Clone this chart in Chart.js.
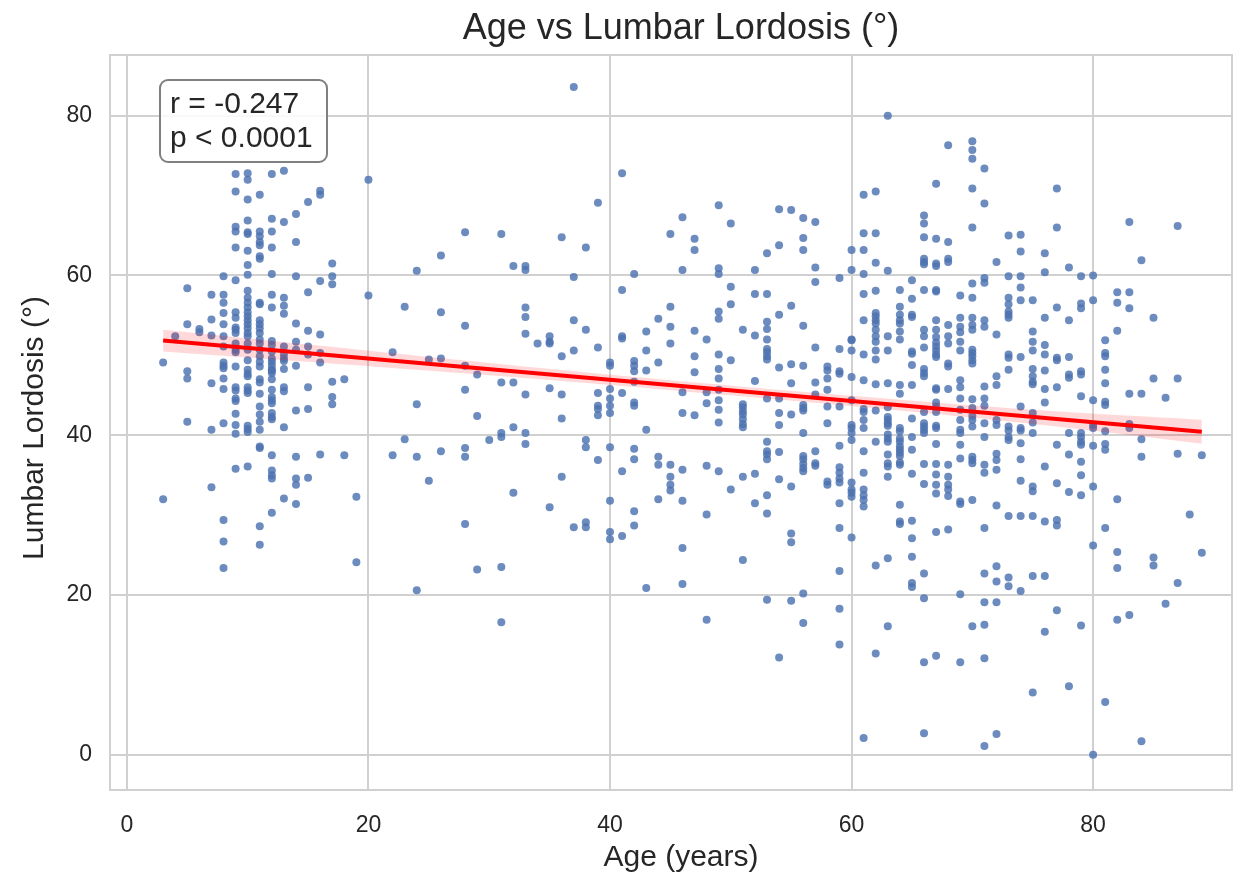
<!DOCTYPE html>
<html lang="en">
<head>
    <meta charset="UTF-8">
    <title>Age vs Lumbar Lordosis</title>
    <script src="https://cdn.jsdelivr.net/npm/chart.js@4.4.1/dist/chart.umd.min.js"></script>
    <style>
        body { margin: 0; background: #fff; }
        #wrap { width: 1243px; height: 880px; }
    </style>
</head>
<body>
    <div id="wrap">
        <canvas id="grafico" width="1243" height="880"></canvas>
    </div>

    <script>
        // ages (years) and the lordosis readings (deg) at each age
        const ages = [3, 4, 5, 6, 7, 8, 9, 10, 11, 12, 13, 14, 15, 16, 17, 18, 19, 20,
            22, 23, 24, 25, 26, 28, 29, 30, 31, 32, 33, 34, 35, 36, 37, 38, 39, 40,
            41, 42, 43, 44, 45, 46, 47, 48, 49, 50, 51, 52, 53, 54, 55, 56, 57, 58, 59, 60,
            61, 62, 63, 64, 65, 66, 67, 68, 69, 70, 71, 72, 73, 74, 75, 76, 77, 78, 79, 80,
            81, 82, 83, 84, 85, 86, 87, 88, 89]

        const lordosisByAge = [
            [49.1, 32.0],
            [52.4],
            [58.4, 53.9, 48.0, 47.1, 41.7],
            [53.3, 52.9],
            [57.6, 54.5, 52.5, 46.5, 40.7, 33.5],
            [59.9, 57.6, 56.6, 55.3, 53.9, 52.4, 51.1, 49.1, 48.7, 48.4, 47.1, 45.8, 41.5, 29.4, 26.7, 23.4],
            [72.7, 70.5, 66.1, 65.5, 63.5, 59.4, 55.4, 54.7, 53.5, 53.2, 52.8, 51.5, 50.7, 50.4, 48.6, 46.0, 45.6, 44.6, 44.3, 42.7, 41.3, 40.2, 35.8],
            [72.8, 72.0, 69.5, 66.9, 65.4, 65.2, 63.1, 61.3, 60.1, 58.1, 57.2, 56.6, 56.0, 55.4, 54.9, 54.4, 53.9, 53.4, 52.8, 52.4, 51.5, 50.7, 49.4, 48.2, 47.7, 47.4, 46.0, 45.6, 45.3, 41.2, 40.8, 40.4, 36.1],
            [70.1, 65.5, 64.9, 64.2, 63.8, 62.4, 62.1, 56.6, 56.4, 54.4, 53.9, 53.4, 52.8, 52.0, 51.5, 50.7, 49.9, 49.2, 48.6, 47.0, 46.6, 45.2, 43.6, 42.6, 41.7, 40.7, 38.6, 38.4, 28.6, 26.3],
            [72.7, 67.1, 65.5, 63.5, 60.2, 57.6, 56.0, 51.8, 51.3, 50.5, 49.6, 49.2, 48.7, 48.2, 48.1, 47.8, 47.0, 45.7, 44.8, 44.4, 44.0, 42.8, 42.3, 42.0, 37.5, 35.6, 35.0, 34.6, 30.3],
            [73.1, 66.7, 57.2, 56.2, 55.2, 51.1, 50.1, 49.6, 49.3, 48.3, 46.0, 45.5, 41.0, 32.1],
            [67.7, 64.2, 59.9, 54.0, 51.7, 50.7, 48.7, 43.1, 37.3, 34.6, 33.8, 31.4],
            [69.2, 57.9, 53.1, 51.1, 50.1, 46.0, 43.3, 34.7],
            [70.6, 70.1, 59.3, 52.6, 50.3, 49.1, 37.6],
            [61.5, 59.9, 58.9, 46.7, 44.8, 43.9],
            [47.0, 37.5],
            [32.3, 24.1],
            [72.0, 57.5],
            [50.4, 37.5],
            [56.1, 39.5],
            [60.6, 43.9, 37.3, 20.6],
            [49.5, 34.3],
            [62.5, 55.4, 49.6, 38.0],
            [65.4, 53.7, 48.7, 45.7, 38.4, 37.3, 28.9],
            [47.6, 42.4, 23.2],
            [39.4],
            [65.2, 46.6, 40.3, 39.8, 23.5, 16.6],
            [61.2, 46.6, 41.0, 32.8],
            [61.2, 60.7, 56.0, 54.8, 52.7, 45.1, 40.3, 38.9],
            [51.5],
            [52.4, 51.7, 51.5, 45.9, 31.0],
            [64.8, 49.9, 45.1, 42.1, 34.8],
            [83.6, 59.8, 54.4, 50.6, 28.5],
            [63.5, 53.2, 39.4, 38.5, 29.1, 28.5],
            [69.1, 51.0, 45.3, 43.7, 43.3, 42.5, 36.9],
            [49.1, 48.7, 45.8, 44.6, 43.7, 42.8, 38.5, 31.8, 27.9, 27.0],
            [72.8, 58.2, 52.4, 52.1, 45.3, 35.5, 27.4],
            [60.2, 49.3, 48.7, 48.0, 46.7, 44.1, 43.7, 38.3, 37.0, 30.5, 28.7],
            [53.0, 50.6, 48.1, 40.7, 20.9],
            [54.6, 49.1, 37.3, 36.3, 32.0],
            [65.2, 56.1, 53.6, 51.5, 36.3, 34.8, 33.8, 33.1],
            [67.3, 60.7, 45.4, 42.8, 35.7, 31.8, 25.9, 21.4],
            [64.6, 63.2, 53.1, 49.9, 47.9, 42.5],
            [52.0, 45.4, 44.0, 36.2, 30.1, 16.9],
            [68.8, 60.9, 60.2, 55.5, 54.6, 50.1, 48.3, 47.1, 45.7, 44.4, 43.2, 41.6, 35.5],
            [66.5, 58.6, 56.4, 49.4, 33.2],
            [53.2, 43.9, 43.5, 43.0, 42.6, 42.0, 41.4, 41.0, 34.8, 24.4],
            [60.7, 57.7, 52.5, 46.8, 35.2, 31.5],
            [62.8, 57.7, 54.2, 53.3, 52.0, 50.8, 50.4, 49.9, 49.5, 44.6, 39.2, 38.0, 37.6, 37.0, 32.5, 30.2, 19.4],
            [68.3, 63.8, 55.1, 48.5, 44.6, 42.8, 41.3, 37.9, 34.5, 12.2],
            [68.2, 56.2, 48.9, 46.5, 42.6, 33.6, 27.7, 26.6, 19.3],
            [67.2, 64.7, 63.2, 53.7, 48.7, 43.8, 43.4, 43.1, 40.3, 37.4, 37.0, 36.4, 35.9, 35.5, 20.2, 16.5],
            [66.7, 61.0, 59.2, 51.0, 46.6, 45.1, 38.0, 36.5, 36.2],
            [48.6, 48.1, 47.1, 45.7, 43.6, 41.5, 34.2, 33.8],
            [59.7, 50.8, 48.0, 47.7, 43.6, 38.7, 36.0, 35.3, 34.6, 34.1, 31.5, 28.4, 23.0, 18.3, 13.8],
            [63.2, 60.7, 52.0, 51.9, 50.6, 47.3, 44.4, 41.3, 40.9, 40.3, 39.4, 34.1, 33.2, 32.8, 32.3, 27.2],
            [70.1, 65.3, 63.2, 60.2, 57.7, 54.4, 50.1, 46.9, 43.3, 42.9, 41.9, 40.9, 38.0, 35.3, 33.2, 32.5, 31.9, 31.1, 2.1],
            [70.5, 65.3, 61.6, 58.1, 55.3, 54.9, 54.4, 54.0, 53.2, 52.4, 51.7, 50.6, 49.5, 46.4, 43.1, 39.2, 23.7, 12.7],
            [80.0, 60.6, 52.4, 50.6, 46.5, 43.5, 42.3, 41.9, 41.5, 41.2, 40.1, 39.6, 39.2, 37.6, 36.5, 36.1, 34.8, 24.6, 16.1],
            [58.2, 56.1, 55.1, 54.4, 54.0, 53.0, 52.0, 46.3, 45.2, 40.9, 40.5, 39.6, 39.2, 38.6, 38.2, 37.8, 37.4, 36.6, 36.3, 31.3, 29.2, 28.9],
            [59.4, 57.1, 55.1, 54.8, 50.5, 50.2, 48.8, 46.3, 42.1, 39.8, 38.2, 35.2, 29.3, 27.1, 24.8, 21.5, 21.0],
            [67.5, 66.5, 64.8, 62.1, 61.7, 61.4, 58.2, 53.2, 52.4, 51.0, 48.3, 47.8, 47.4, 42.9, 41.5, 41.1, 40.7, 40.3, 36.4, 33.9, 22.7, 19.6, 11.6, 2.7],
            [71.5, 64.6, 61.5, 61.2, 58.2, 58.0, 54.4, 53.2, 52.3, 51.6, 51.1, 50.6, 50.1, 49.8, 45.9, 45.7, 44.1, 43.6, 42.9, 41.2, 40.9, 38.9, 36.4, 35.1, 33.8, 32.7, 27.9, 12.4],
            [76.3, 64.2, 62.1, 61.7, 53.8, 52.4, 51.5, 49.0, 48.6, 45.8, 36.3, 34.8, 33.8, 33.2, 32.4, 28.2],
            [57.5, 54.7, 53.6, 52.9, 51.7, 50.6, 46.9, 46.0, 44.6, 43.2, 41.9, 40.7, 40.3, 38.8, 37.1, 31.7, 31.4, 20.1, 11.6],
            [76.8, 75.7, 74.6, 70.9, 66.0, 59.0, 57.2, 54.7, 53.8, 53.2, 50.7, 50.3, 49.9, 49.4, 49.0, 44.5, 43.4, 42.4, 41.9, 41.1, 37.3, 36.9, 36.5, 31.9, 16.1],
            [73.4, 69.0, 59.7, 59.1, 54.4, 53.6, 46.1, 44.6, 43.7, 41.5, 39.8, 36.3, 35.3, 28.4, 22.7, 19.1, 16.3, 12.1, 1.1],
            [61.7, 52.6, 47.4, 46.3, 41.9, 41.3, 37.7, 36.9, 35.7, 31.2, 23.6, 21.7, 19.1, 2.6],
            [65.0, 59.9, 57.2, 56.4, 55.5, 55.1, 54.7, 50.1, 49.7, 48.2, 41.1, 40.6, 39.8, 39.4, 29.9, 22.2, 21.1],
            [65.1, 63.0, 59.9, 58.5, 56.9, 49.8, 43.6, 40.9, 40.6, 39.0, 37.0, 34.3, 29.9, 20.5],
            [56.9, 53.0, 51.7, 50.6, 48.3, 47.4, 46.7, 46.4, 42.8, 41.6, 40.3, 33.6, 33.0, 29.9, 22.4, 7.8],
            [62.8, 60.4, 54.7, 51.3, 50.1, 48.1, 45.8, 44.1, 36.1, 29.2, 22.4, 15.4],
            [70.9, 66.0, 56.0, 49.7, 49.4, 46.0, 38.8, 34.0, 29.4, 28.7, 18.1],
            [61.0, 54.4, 49.8, 47.6, 47.2, 40.3, 37.6, 32.9, 8.6],
            [59.9, 56.5, 55.9, 48.0, 47.6, 44.9, 40.3, 39.8, 39.2, 38.8, 36.7, 35.0, 32.5, 16.2],
            [60.0, 56.9, 44.4, 41.3, 40.9, 38.7, 33.6, 26.2, 0.0],
            [51.9, 50.3, 49.9, 48.2, 46.5, 44.2, 43.8, 40.5, 38.9, 38.2, 28.4, 6.6],
            [57.9, 56.6, 53.1, 32.0, 25.4, 23.4, 16.9],
            [66.7, 57.9, 55.9, 45.2, 41.4, 40.9, 17.5],
            [61.9, 45.2, 39.5, 37.3, 1.7],
            [54.7, 47.1, 24.7, 23.7],
            [44.7, 18.9],
            [66.2, 47.1, 37.7, 21.5],
            [30.1],
            [37.5, 25.3]
        ]

        // regression line and its confidence band
        const fitAge = [3, 89]
        const fitValue = [51.85, 40.45]
        const bandAge = [3, 15, 30, 45, 60, 75, 89]
        const bandUpper = [53.2, 51.35, 49.05, 46.9, 44.95, 43.2, 41.95]
        const bandLower = [50.5, 49.2, 47.5, 45.65, 43.65, 41.4, 38.95]

        const xTicks = [0, 20, 40, 60, 80]
        const yTicks = [0, 20, 40, 60, 80]

        const fonte = '"Liberation Sans", Arial, sans-serif'
        const corTexto = '#262626'
        const corGrade = '#d0d0d0'

        var pontos = []
        ages.forEach(function(idade, i) {
            lordosisByAge[i].forEach(function(v) {
                pontos.push({ x: idade, y: v })
            })
        })

        const quadro = {
            id: 'quadro',
            beforeDatasetsDraw(chart) {
                const { ctx, chartArea: a } = chart
                ctx.save()
                ctx.strokeStyle = corGrade
                ctx.lineWidth = 2
                ctx.strokeRect(a.left, a.top, a.right - a.left, a.bottom - a.top)
                ctx.restore()
            },
            afterDraw(chart) {
                const { ctx, chartArea: a } = chart
                const meio = (a.left + a.right) / 2 + 10
                ctx.save()
                ctx.fillStyle = corTexto
                ctx.textAlign = 'center'
                ctx.textBaseline = 'middle'

                // title
                ctx.font = '36px ' + fonte
                ctx.fillText('Age vs Lumbar Lordosis (°)', meio, 29)

                // axis titles
                ctx.font = '30px ' + fonte
                ctx.fillText('Age (years)', meio, 858)
                ctx.save()
                ctx.translate(35, 428)
                ctx.rotate(-Math.PI / 2)
                ctx.fillText('Lumbar Lordosis (°)', 0, 0)
                ctx.restore()

                // r / p box
                const bx = a.left + 50, by = a.top + 25, bw = 167, bh = 82
                ctx.beginPath()
                ctx.roundRect(bx, by, bw, bh, 8)
                ctx.fillStyle = 'rgba(255,255,255,0.85)'
                ctx.fill()
                ctx.strokeStyle = '#808080'
                ctx.lineWidth = 2
                ctx.stroke()
                ctx.fillStyle = corTexto
                ctx.font = '30px ' + fonte
                ctx.textAlign = 'left'
                ctx.textBaseline = 'alphabetic'
                ctx.fillText('r = -0.247', bx + 10, by + 33)
                ctx.fillText('p < 0.0001', bx + 10, by + 67)
                ctx.restore()
            }
        }

        const ctx = document.getElementById('grafico').getContext('2d')

        let chart = new Chart(ctx, {
            type: 'scatter',
            data: {
                datasets: [
                    {
                        label: 'fit',
                        type: 'line',
                        data: fitAge.map((x, i) => ({ x: x, y: fitValue[i] })),
                        borderColor: '#ff0000',
                        borderWidth: 4,
                        pointRadius: 0,
                        fill: false,
                        order: 1
                    },
                    {
                        label: 'upper',
                        type: 'line',
                        data: bandAge.map((x, i) => ({ x: x, y: bandUpper[i] })),
                        borderWidth: 0,
                        borderColor: 'rgba(0,0,0,0)',
                        backgroundColor: 'rgba(255,0,0,0.15)',
                        pointRadius: 0,
                        tension: 0.4,
                        fill: '+1',
                        order: 2
                    },
                    {
                        label: 'lower',
                        type: 'line',
                        data: bandAge.map((x, i) => ({ x: x, y: bandLower[i] })),
                        borderWidth: 0,
                        borderColor: 'rgba(0,0,0,0)',
                        pointRadius: 0,
                        tension: 0.4,
                        fill: false,
                        order: 2
                    },
                    {
                        label: 'pacientes',
                        data: pontos,
                        backgroundColor: 'rgba(76,114,176,0.82)',
                        borderWidth: 0,
                        pointRadius: 4,
                        order: 3
                    }
                ]
            },
            options: {
                responsive: false,
                animation: false,
                layout: { padding: { top: 55, right: 11, bottom: 0, left: 0 } },
                plugins: {
                    legend: { display: false },
                    tooltip: { enabled: false }
                },
                scales: {
                    x: {
                        type: 'linear',
                        min: -1.4,
                        max: 91.5,
                        afterBuildTicks: function(scale) {
                            scale.ticks = xTicks.map(v => ({ value: v }))
                        },
                        afterFit: function(scale) { scale.height = 90 },
                        grid: { color: corGrade, lineWidth: 2, drawTicks: false },
                        border: { display: false },
                        ticks: { color: corTexto, font: { family: fonte, size: 23 }, padding: 22 }
                    },
                    y: {
                        type: 'linear',
                        min: -4.4,
                        max: 87.6,
                        afterBuildTicks: function(scale) {
                            scale.ticks = yTicks.map(v => ({ value: v }))
                        },
                        afterFit: function(scale) { scale.width = 110 },
                        grid: { color: corGrade, lineWidth: 2, drawTicks: false },
                        border: { display: false },
                        ticks: { color: corTexto, font: { family: fonte, size: 23 }, padding: 18 }
                    }
                }
            },
            plugins: [quadro]
        })
    </script>
</body>
</html>
